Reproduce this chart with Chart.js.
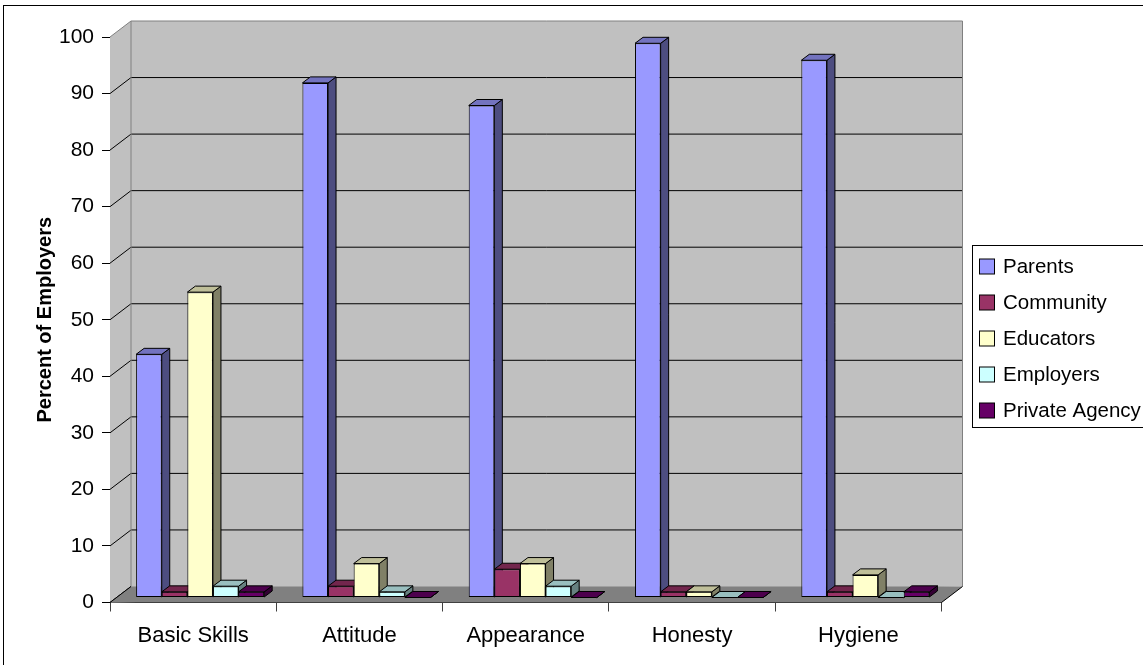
<!DOCTYPE html>
<html>
<head>
<meta charset="utf-8">
<title>Percent of Employers</title>
<script src="https://cdn.jsdelivr.net/npm/chart.js@4.4.1/dist/chart.umd.min.js"></script>
<style>
  html, body { margin: 0; padding: 0; background: #fff; }
  #wrap { position: relative; width: 1143px; height: 665px; }
</style>
</head>
<body>
<div id="wrap"><canvas id="skillsChart"></canvas></div>
<script>
// Who employers say is responsible for each skill area (percent of employers)
const categories = ['Basic Skills', 'Attitude', 'Appearance', 'Honesty', 'Hygiene'];
const seriesNames = ['Parents', 'Community', 'Educators', 'Employers', 'Private Agency'];
const parents = [43, 91, 87, 98, 95];
const community = [1, 2, 5, 1, 1];
const educators = [54, 6, 6, 1, 4];
const employers = [2, 1, 2, 0, 0];
const privateAgency = [1, 0, 0, 0, 1];
const yTicks = [0, 10, 20, 30, 40, 50, 60, 70, 80, 90, 100];

const seriesValues = [parents, community, educators, employers, privateAgency];
const frontColors = ['#9999ff', '#993366', '#ffffcc', '#ccffff', '#660066'];

const FONT = "'Liberation Sans', Arial, sans-serif";

// depth of the walls / floor and of the columns (px)
const WALL_DX = 21, WALL_DY = 16;
const BAR_OFF_X = 7, BAR_OFF_Y = 5;
const BAR_DX = 8, BAR_DY = 6;

function shade(hex, f) {
  const n = parseInt(hex.slice(1), 16);
  const r = Math.round(((n >> 16) & 255) * f);
  const g = Math.round(((n >> 8) & 255) * f);
  const b = Math.round((n & 255) * f);
  return 'rgb(' + r + ',' + g + ',' + b + ')';
}

function line(ctx, x1, y1, x2, y2, color) {
  ctx.strokeStyle = color;
  ctx.beginPath();
  ctx.moveTo(x1, y1);
  ctx.lineTo(x2, y2);
  ctx.stroke();
}

function drawBarFaces(ctx, bar, color) {
  const p = bar.getProps(['x', 'y', 'base', 'width'], true);
  const l = p.x - p.width / 2, r = p.x + p.width / 2;
  const top = Math.min(p.y, p.base), bot = Math.max(p.y, p.base);
  ctx.lineWidth = 1;
  ctx.strokeStyle = '#000';
  // side face
  ctx.beginPath();
  ctx.moveTo(r, bot);
  ctx.lineTo(r, top);
  ctx.lineTo(r + BAR_DX, top - BAR_DY);
  ctx.lineTo(r + BAR_DX, bot - BAR_DY);
  ctx.closePath();
  ctx.fillStyle = shade(color, 0.5);
  ctx.fill();
  ctx.stroke();
  // top face
  ctx.beginPath();
  ctx.moveTo(l, top);
  ctx.lineTo(l + BAR_DX, top - BAR_DY);
  ctx.lineTo(r + BAR_DX, top - BAR_DY);
  ctx.lineTo(r, top);
  ctx.closePath();
  ctx.fillStyle = shade(color, 0.75);
  ctx.fill();
  ctx.stroke();
}

// back wall, side wall, floor and gridlines, then the columns in front-to-back order
const columns3d = {
  id: 'columns3d',
  beforeDatasetsDraw(chart) {
    const { ctx, chartArea: a, scales: { y } } = chart;
    ctx.save();
    ctx.lineWidth = 1;
    ctx.fillStyle = '#c0c0c0';
    ctx.beginPath();
    ctx.moveTo(a.left, a.top);
    ctx.lineTo(a.left + WALL_DX, a.top - WALL_DY);
    ctx.lineTo(a.right + WALL_DX, a.top - WALL_DY);
    ctx.lineTo(a.right + WALL_DX, a.bottom - WALL_DY);
    ctx.lineTo(a.left, a.bottom);
    ctx.closePath();
    ctx.fill();

    yTicks.forEach(v => {
      const py = y.getPixelForValue(v);
      const c = v === 100 ? '#808080' : '#000';
      line(ctx, a.left, py, a.left + WALL_DX, py - WALL_DY, c);
      if (v !== 100 && v !== 0) line(ctx, a.left + WALL_DX, py - WALL_DY, a.right + WALL_DX, py - WALL_DY, '#000');
    });
    // wall outline
    line(ctx, a.left + WALL_DX, a.top - WALL_DY, a.right + WALL_DX, a.top - WALL_DY, '#808080');
    line(ctx, a.left + WALL_DX, a.top - WALL_DY, a.left + WALL_DX, a.bottom - WALL_DY, '#808080');
    line(ctx, a.right + WALL_DX, a.top - WALL_DY, a.right + WALL_DX, a.bottom - WALL_DY, '#808080');

    // floor
    ctx.fillStyle = '#808080';
    ctx.beginPath();
    ctx.moveTo(a.left, a.bottom);
    ctx.lineTo(a.right, a.bottom);
    ctx.lineTo(a.right + WALL_DX, a.bottom - WALL_DY);
    ctx.lineTo(a.left + WALL_DX, a.bottom - WALL_DY);
    ctx.closePath();
    ctx.fill();
    line(ctx, a.left, a.bottom, a.left + WALL_DX, a.bottom - WALL_DY, '#000');
    line(ctx, a.right, a.bottom, a.right + WALL_DX, a.bottom - WALL_DY, '#000');
    ctx.restore();
  },
  beforeDatasetDraw() {
    return false;
  },
  afterDatasetsDraw(chart) {
    const ctx = chart.ctx;
    ctx.save();
    ctx.translate(BAR_OFF_X, -BAR_OFF_Y);
    for (let c = 0; c < categories.length; c++) {
      chart.data.datasets.forEach((ds, i) => {
        const bar = chart.getDatasetMeta(i).data[c];
        bar.draw(ctx);
        drawBarFaces(ctx, bar, frontColors[i]);
      });
    }
    ctx.restore();
  },
  afterDraw(chart) {
    const ctx = chart.ctx;
    ctx.save();
    // outer frame
    ctx.lineWidth = 1;
    ctx.strokeStyle = '#000';
    ctx.strokeRect(3.5, 5.5, 1300, 800);
    // legend
    ctx.strokeRect(972.5, 245.5, 300, 182);
    ctx.font = '20.5px ' + FONT;
    ctx.textBaseline = 'middle';
    ctx.textAlign = 'left';
    chart.data.datasets.forEach((ds, i) => {
      const cy = 266.5 + i * 36;
      ctx.fillStyle = ds.backgroundColor;
      ctx.fillRect(979.5, cy - 7.5, 15, 15);
      ctx.strokeRect(979.5, cy - 7.5, 15, 15);
      ctx.fillStyle = '#000';
      ctx.fillText(ds.label, 1003, cy + 1);
    });
    ctx.restore();
  }
};

const datasets = seriesNames.map((name, i) => ({
  label: name,
  data: seriesValues[i],
  backgroundColor: frontColors[i],
  borderColor: '#000',
  borderWidth: 1,
  borderSkipped: false,
  categoryPercentage: 0.77,
  barPercentage: 1.0
}));

new Chart(document.getElementById('skillsChart').getContext('2d'), {
  type: 'bar',
  data: { labels: categories, datasets: datasets },
  options: {
    responsive: true,
    maintainAspectRatio: false,
    animation: false,
    layout: { padding: { top: 37, right: 201.5, bottom: 0, left: 0 } },
    plugins: { legend: { display: false }, tooltip: { enabled: false } },
    scales: {
      x: {
        afterFit: s => { s.height = 62.5; },
        ticks: { color: '#000', padding: 11, font: { size: 22, family: FONT } },
        grid: { drawOnChartArea: false, tickLength: 9, color: '#404040', offset: true },
        border: { color: '#000' }
      },
      y: {
        min: 0,
        max: 100,
        afterBuildTicks: s => { s.ticks = yTicks.map(v => ({ value: v })); },
        afterFit: s => { s.width = 110; },
        ticks: { color: '#000', padding: 8, font: { size: 21, family: FONT } },
        grid: { drawOnChartArea: false, tickLength: 8, color: '#000' },
        border: { color: '#000' },
        title: {
          display: true,
          text: 'Percent of Employers',
          color: '#000',
          font: { size: 20, weight: 'bold', family: FONT },
          padding: { top: 33, bottom: 0 }
        }
      }
    }
  },
  plugins: [columns3d]
});
</script>
</body>
</html>
